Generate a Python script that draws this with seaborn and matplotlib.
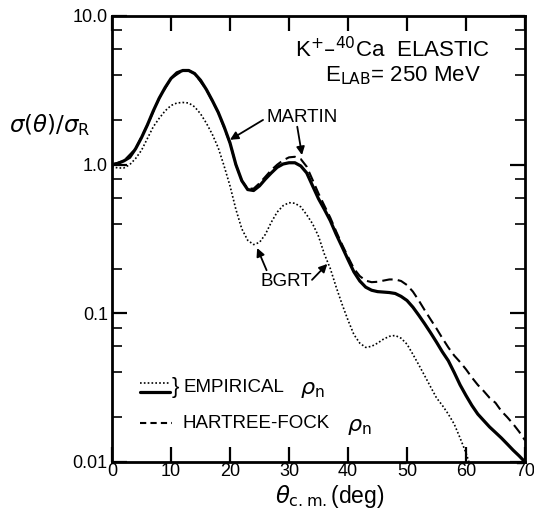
import numpy as np
import pandas as pd
import matplotlib
matplotlib.use("Agg")
import matplotlib.pyplot as plt
import seaborn as sns
from matplotlib.lines import Line2D

# ---------------- data ----------------
theta_martin = [0, 1, 2, 3, 4, 5, 6, 7, 8, 9, 10, 11, 12, 13, 14, 15, 16, 17, 18, 19,
                20, 21, 22, 23, 24, 25, 26, 27, 28, 29, 30, 31, 32, 33, 34, 35, 36, 37,
                38, 39, 40, 41, 42, 43, 44, 45, 46, 47, 48, 49, 50, 51, 52, 53, 54, 55,
                56, 57, 58, 59, 60, 61, 62, 63, 64, 65, 66, 67, 68, 69, 70]
sigma_martin = [1.0, 1.02, 1.06, 1.12, 1.28, 1.52, 1.85, 2.3, 2.8, 3.3, 3.8, 4.15, 4.3,
                4.3, 4.1, 3.7, 3.2, 2.7, 2.25, 1.8, 1.4, 1.0, 0.78, 0.68, 0.67, 0.72,
                0.8, 0.88, 0.96, 1.01, 1.03, 1.03, 0.98, 0.88, 0.72, 0.59, 0.5, 0.42,
                0.34, 0.28, 0.23, 0.19, 0.165, 0.15, 0.143, 0.14, 0.139, 0.138, 0.136,
                0.13, 0.122, 0.11, 0.097, 0.085, 0.074, 0.064, 0.055, 0.048, 0.04,
                0.033, 0.028, 0.024, 0.021, 0.019, 0.0172, 0.0158, 0.0145, 0.0132,
                0.012, 0.011, 0.01]

theta_hf = [0, 2, 4, 6, 8, 10, 12, 13, 14, 16, 18, 20, 21, 22, 23, 24, 25, 26, 27, 28,
            29, 30, 31, 32, 33, 34, 35, 36, 37, 38, 39, 40, 41, 42, 43, 44, 45, 46, 47,
            48, 49, 50, 51, 52, 53, 54, 55, 56, 57, 58, 59, 60, 61, 62, 63, 64, 65, 66,
            67, 68, 69, 70]
sigma_hf = [1.0, 1.06, 1.28, 1.85, 2.8, 3.8, 4.3, 4.3, 4.1, 3.2, 2.25, 1.4, 1.0, 0.78,
            0.69, 0.69, 0.75, 0.83, 0.92, 1.0, 1.07, 1.12, 1.13, 1.09, 0.97, 0.79, 0.64,
            0.53, 0.44, 0.355, 0.29, 0.24, 0.2, 0.178, 0.166, 0.162, 0.163, 0.166,
            0.169, 0.169, 0.165, 0.155, 0.14, 0.122, 0.105, 0.091, 0.079, 0.068, 0.059,
            0.052, 0.047, 0.042, 0.037, 0.033, 0.030, 0.027, 0.025, 0.022, 0.020,
            0.018, 0.016, 0.014]

theta_bgrt = [0, 1, 2, 3, 4, 5, 6, 7, 8, 9, 10, 11, 12, 13, 14, 15, 16, 17, 18, 19, 20,
              21, 22, 23, 24, 25, 26, 27, 28, 29, 30, 31, 32, 33, 34, 35, 36, 37, 38,
              39, 40, 41, 42, 43, 44, 45, 46, 47, 48, 49, 50, 51, 52, 53, 54, 55, 56,
              57, 58, 59, 60, 60.5]
sigma_bgrt = [0.97, 0.95, 0.95, 1.0, 1.1, 1.25, 1.5, 1.8, 2.05, 2.3, 2.5, 2.6, 2.62,
              2.6, 2.45, 2.2, 1.9, 1.6, 1.3, 0.98, 0.72, 0.5, 0.37, 0.31, 0.29, 0.3,
              0.34, 0.41, 0.48, 0.53, 0.555, 0.55, 0.52, 0.46, 0.4, 0.33, 0.25, 0.2,
              0.15, 0.115, 0.09, 0.072, 0.063, 0.059, 0.06, 0.063, 0.067, 0.07, 0.071,
              0.068, 0.062, 0.053, 0.045, 0.038, 0.032, 0.027, 0.024, 0.021, 0.018,
              0.0145, 0.0115, 0.01]

x_ticks = [0, 10, 20, 30, 40, 50, 60, 70]
y_ticks = [0.01, 0.1, 1.0, 10.0]
y_ticklabels = ["0.01", "0.1", "1.0", "10.0"]
y_minor = [m * d for d in (0.01, 0.1, 1.0) for m in (2, 4, 6, 8)]

# ---------------- plotting ----------------
sns.set_theme(style="ticks")
plt.rcParams["font.family"] = ["Liberation Sans", "DejaVu Sans"]
plt.rcParams["mathtext.fontset"] = "dejavusans"
plt.rcParams["text.color"] = "black"

fig = plt.figure(figsize=(5.34, 5.12), dpi=100)
ax = fig.add_axes([112 / 534, 1 - 462 / 512, 413 / 534, 446 / 512])

df_m = pd.DataFrame({"theta": theta_martin, "sigma": sigma_martin})
df_h = pd.DataFrame({"theta": theta_hf, "sigma": sigma_hf})
df_b = pd.DataFrame({"theta": theta_bgrt, "sigma": sigma_bgrt})

sns.lineplot(data=df_h, x="theta", y="sigma", ax=ax, color="black", lw=1.5,
             linestyle=(0, (5, 2.5)), estimator=None, sort=False)
sns.lineplot(data=df_m, x="theta", y="sigma", ax=ax, color="black", lw=2.3,
             estimator=None, sort=False)
sns.lineplot(data=df_b, x="theta", y="sigma", ax=ax, color="black", lw=1.2,
             linestyle=(0, (1, 1.3)), estimator=None, sort=False)

ax.set_yscale("log")
ax.set_xlim(0, 70)
ax.set_ylim(0.01, 10)
ax.set_xticks(x_ticks)
ax.set_xticklabels([str(t) for t in x_ticks])
ax.set_yticks(y_ticks)
ax.set_yticklabels(y_ticklabels)
ax.set_yticks(y_minor, minor=True)
ax.yaxis.set_minor_formatter(matplotlib.ticker.NullFormatter())
ax.set_xlabel("")
ax.set_ylabel("")

for s in ax.spines.values():
    s.set_linewidth(2.0)
    s.set_color("black")

ax.tick_params(axis="both", which="major", direction="in", length=11, width=1.6,
               top=True, right=True, labelsize=13, colors="black", pad=3)
ax.tick_params(axis="y", which="minor", direction="in", length=7, width=1.4,
               left=True, right=True)
ax.tick_params(axis="x", which="major", pad=1)

# axis labels
fig.text(50 / 534, 1 - 125 / 512, r"$\sigma(\theta)/\sigma_{\rm R}$", fontsize=16.5,
         ha="center", va="center")
fig.text(330 / 534, 1 - 496 / 512, r"$\theta_{\rm c.m.}$(deg)", fontsize=16.5,
         ha="center", va="center")

# titles
ax.text(0.68, 0.924, r"K$^{+}$–$^{40}$Ca  ELASTIC", transform=ax.transAxes,
        fontsize=16, ha="center", va="center")
ax.text(0.705, 0.866, r"E$_{\rm LAB}$= 250 MeV", transform=ax.transAxes,
        fontsize=16, ha="center", va="center")

# annotations
arrow = dict(arrowstyle="-|>", color="black", lw=1.3, mutation_scale=12,
             shrinkA=0, shrinkB=0)
ax.text(32.3, 2.07, "MARTIN", fontsize=13.5, ha="center", va="center")
ax.annotate("", xy=(20.0, 1.47), xytext=(25.6, 2.0), arrowprops=arrow)
ax.annotate("", xy=(32.2, 1.16), xytext=(31.4, 1.8), arrowprops=arrow)
ax.text(29.6, 0.164, "BGRT", fontsize=13.5, ha="center", va="center")
ax.annotate("", xy=(24.6, 0.275), xytext=(26.2, 0.195), arrowprops=arrow)
ax.annotate("", xy=(36.5, 0.215), xytext=(33.9, 0.168), arrowprops=arrow)

# legend drawn by hand in axes coordinates
T = ax.transAxes
ax.add_line(Line2D([0.068, 0.14], [0.177, 0.177], transform=T, color="black",
                   lw=1.2, linestyle=(0, (1, 1.3))))
ax.add_line(Line2D([0.068, 0.14], [0.157, 0.157], transform=T, color="black", lw=2.3))
ax.add_line(Line2D([0.068, 0.146], [0.087, 0.087], transform=T, color="black",
                   lw=1.5, linestyle=(0, (3, 2))))
ax.text(0.145, 0.168, "}", transform=T, fontsize=16, ha="left", va="center")
ax.text(0.172, 0.168, "EMPIRICAL", transform=T, fontsize=13.5, ha="left", va="center")
ax.text(0.455, 0.162, r"$\rho_{\rm n}$", transform=T, fontsize=16, ha="left", va="center")
ax.text(0.17, 0.087, "HARTREE-FOCK", transform=T, fontsize=13.5, ha="left", va="center")
ax.text(0.57, 0.08, r"$\rho_{\rm n}$", transform=T, fontsize=16, ha="left", va="center")

fig.savefig("out.png", dpi=100)
